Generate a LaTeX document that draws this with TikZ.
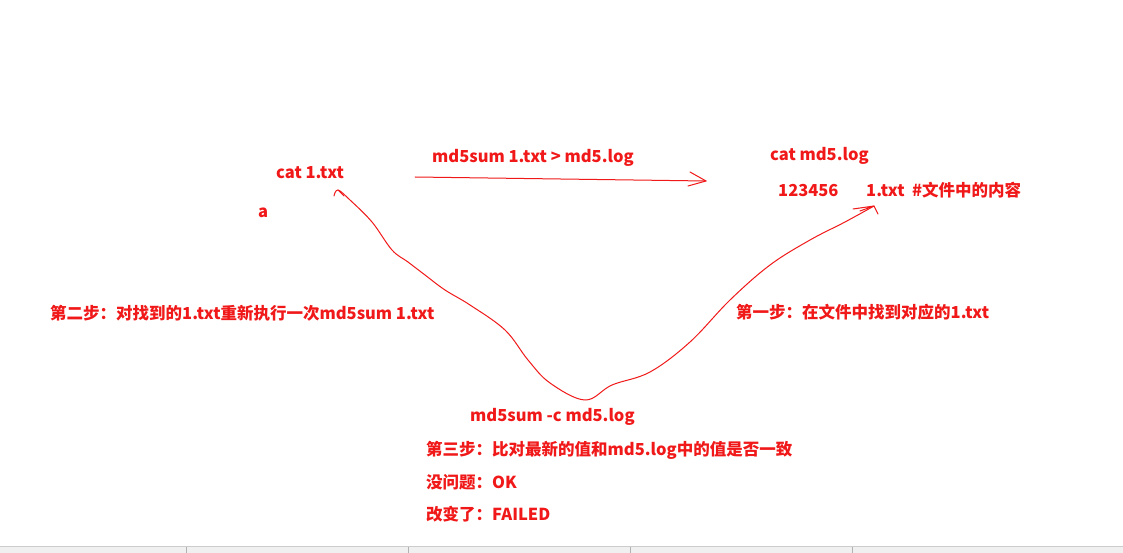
\documentclass[tikz,border=0pt]{standalone}
\usepackage{fontspec}
\setmainfont{Noto Sans CJK SC}
\usetikzlibrary{positioning}
\definecolor{ink}{HTML}{F01818}
\tikzset{
  lbl/.style={text=ink, font=\bfseries\fontsize{16.5}{19}\selectfont, inner sep=0pt, anchor=west},
  pen/.style={draw=ink, line width=1pt, line cap=round, line join=round}
}
\begin{document}
\begin{tikzpicture}[x=1pt,y=-1pt]
\useasboundingbox (0,0) rectangle (1123,553);
\fill[white] (0,0) rectangle (1123,553);
% status bar
\fill[black!6] (0,546) rectangle (1123,553);
\draw[black!20] (0,546) -- (1123,546);
\foreach \x in {186,408,630,852} \draw[black!30] (\x,547) -- (\x,553);

\node[lbl] (cat) at (276,173) {cat 1.txt};
\node[lbl] (a) at (258,213) {a};
\node[lbl] (md5) at (432,158) {md5sum 1.txt > md5.log};
\node[lbl] (catlog) at (770,156) {cat md5.log};
\node[lbl] (val) at (778,191) {123456};
\node[lbl] (file) at (866,190) {1.txt \ \#文件中的内容};
\node[lbl] (step2) at (50,313) {第二步：对找到的1.txt重新执行一次md5sum 1.txt};
\node[lbl] (step1) at (736,312) {第一步：在文件中找到对应的1.txt};
\node[lbl] (check) at (470,417) {md5sum -c md5.log};
\node[lbl] (step3) at (426,450) {第三步：比对最新的值和md5.log中的值是否一致};
\node[lbl] (ok) at (426,482) {没问题：OK};
\node[lbl] (fail) at (426,514) {改变了：FAILED};

\coordinate (p1) at (415,177);
\coordinate (p2) at (706,181);
\coordinate (bot) at (585,400);
\coordinate (l) at (334,196);
\coordinate (r) at (874,206);

% top arrow
\draw[pen] (p1) -- (p2);
\draw[pen] (p2) -- (690,172) (p2) -- (688,186);
% hand drawn curve
\draw[pen] plot[smooth, tension=0.6] coordinates {(l) (338,190) (350,200) (372,222) (392,250) (408,262) (425,275) (445,290) (470,305) (505,330) (528,360) (550,383) (bot) (612,385) (650,372) (690,342) (730,300) (770,265) (810,240) (845,222) (r)};
\draw[pen] (338,190) -- (344,196);
\draw[pen] (r) -- (860,211) (r) -- (853,209) (r) -- (878,214);
\end{tikzpicture}
\end{document}
